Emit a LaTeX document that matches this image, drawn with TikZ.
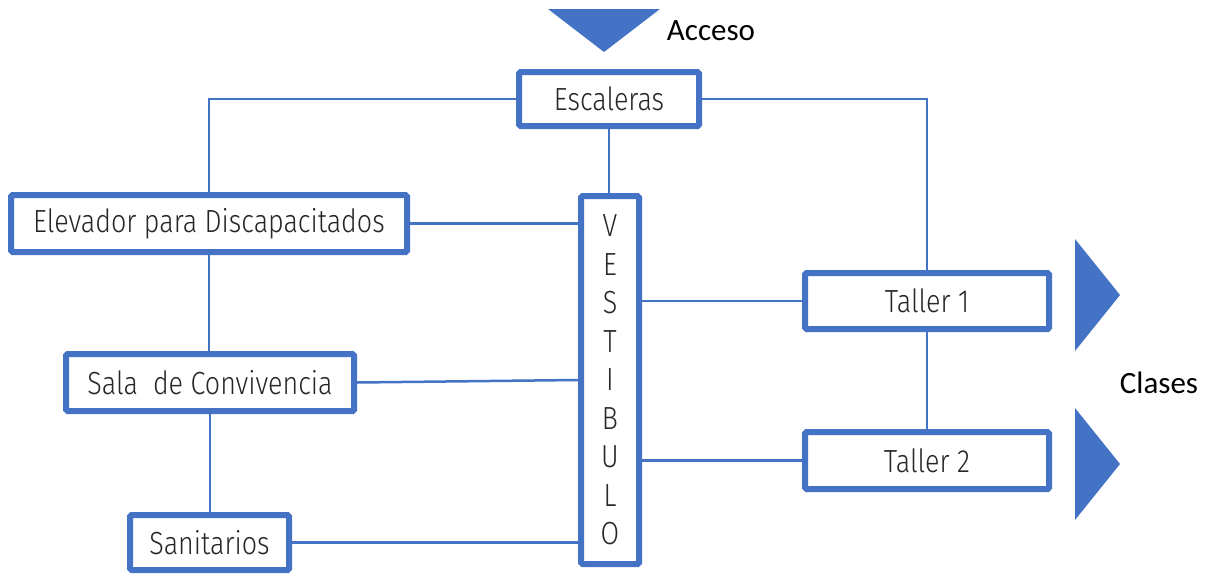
\documentclass[tikz,border=0pt]{standalone}
\usepackage{fontspec}
\setmainfont{Fira Sans Light}[FakeStretch=0.84]
\newfontfamily\calfont{Carlito}
\definecolor{obl}{HTML}{4472C4}
\definecolor{txt}{HTML}{262626}
\tikzset{
  box/.style={draw=obl, line width=6pt, rounded corners=1.5pt, fill=white, text=txt,
    inner sep=0pt, font=\fontsize{32}{38.5}\selectfont},
  link/.style={draw=obl, line width=2.5pt},
  tri/.style={fill=obl, draw=none},
  lbl/.style={text=black, font=\calfont\fontsize{31}{36}\selectfont, inner sep=0pt}
}
\begin{document}
\begin{tikzpicture}[x=1pt,y=1pt]
\useasboundingbox (0,0) rectangle (1208,-576);
% boxes
\node[box, minimum width=180pt, minimum height=54pt] (esc) at (609,-99) {Escaleras};
\node[box, minimum width=396pt, minimum height=57pt] (ele) at (209,-223.5) {Elevador para Discapacitados};
\node[box, minimum width=58pt, minimum height=368pt, align=center] (ves) at (610,-380) {V\\E\\S\\T\\I\\B\\U\\L\\O};
\node[box, minimum width=244pt, minimum height=56pt] (ta1) at (927,-301) {Taller 1};
\node[box, minimum width=244pt, minimum height=57pt] (ta2) at (927,-460.5) {Taller 2};
\node[box, minimum width=288pt, minimum height=57pt] (sal) at (210,-382.5) {Sala\ \ de Convivencia};
\node[box, minimum width=159pt, minimum height=55pt] (san) at (209.5,-542.5) {Sanitarios};
% connectors
\draw[link] (esc.west) -| (ele.north);
\draw[link] (esc.east) -| (ta1.north);
\draw[link] (esc.south) -- (esc.south |- ves.north);
\draw[link] (ele.east) -- (ele.east -| ves.west);
\draw[link] (sal.east) -- (ves.west);
\draw[link] (san.east) -- (san.east -| ves.west);
\draw[link] (ta1.west) -- (ta1.west -| ves.east);
\draw[link] (ta2.west) -- (ta2.west -| ves.east);
\draw[link] (ele.south) -- (ele.south |- sal.north);
\draw[link] (sal.south) -- (sal.south |- san.north);
\draw[link] (ta1.south) -- (ta1.south |- ta2.north);
% triangles
\fill[tri] (548,-9) -- (660,-9) -- (604,-52) -- cycle;
\fill[tri] (1075,-239) -- (1120,-295) -- (1075,-351) -- cycle;
\fill[tri] (1075,-408) -- (1120,-464) -- (1075,-520) -- cycle;
% labels
\node[lbl] (acc) at (711,-31) {Acceso};
\node[lbl] (cla) at (1159,-383) {Clases};
\end{tikzpicture}
\end{document}
